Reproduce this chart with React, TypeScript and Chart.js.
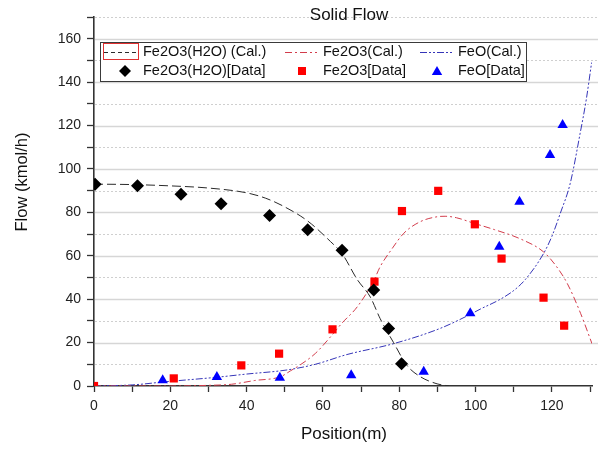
import React, { useEffect, useRef } from 'react';
import { Chart, registerables } from 'chart.js';

Chart.register(...registerables);

// ---- axis ticks ----
const xTicks = [0, 10, 20, 30, 40, 50, 60, 70, 80, 90, 100, 110, 120, 130];
const yTicks = [0, 10, 20, 30, 40, 50, 60, 70, 80, 90, 100, 110, 120, 130, 140, 150, 160, 170];

// ---- calculated curves ----
const hydrateCalX = [0, 10, 20, 30, 40, 45, 50, 56, 62, 65, 69, 72.4, 75, 78.5, 82, 85.5, 89.9, 93];
const hydrateCalY = [93, 92.8, 92.2, 91.2, 89, 86.5, 82.5, 76, 66.5, 61, 49, 41, 31, 20, 9.5, 4.3, 1, 0];

const hematiteCalX = [0, 10, 20, 30, 36, 42, 48.9, 51.5, 54, 58, 62, 65, 69, 73.3, 75, 78, 81.2, 85.5, 90, 92, 95, 99.5, 105, 111.7, 117.8, 121, 124, 127.5, 130.5];
const hematiteCalY = [0, 0, 0, 0.3, 0.8, 2.5, 4.3, 7, 9.7, 15, 22.7, 29, 36.5, 48.5, 55, 63, 70.4, 75.7, 78, 78.2, 77.5, 75, 72, 67.8, 61.8, 55.5, 47.3, 33.5, 19.5];

const feoCalX = [0, 10, 19, 32, 40, 50.6, 58, 66.3, 78.5, 90.8, 98.6, 101.3, 106, 110, 113, 117.8, 120, 122.2, 124.8, 127.4, 129, 130.4];
const feoCalY = [0, 0.5, 2, 4, 5.5, 7.4, 10, 14.5, 19.5, 26.6, 33, 35.5, 39.5, 44, 49, 61, 69, 79.6, 93.4, 116.5, 132, 149];

// ---- measured data ----
const hydrateDataX = [0.3, 11.4, 22.8, 33.3, 46, 56, 65, 73.3, 77.2, 80.6];
const hydrateDataY = [93, 92.2, 88.3, 84, 78.5, 72, 62.5, 44.2, 26.5, 10.3];

const hematiteDataX = [0, 20.9, 38.6, 48.5, 62.5, 73.5, 80.7, 90.2, 99.8, 106.8, 117.8, 123.2];
const hematiteDataY = [0, 3.5, 9.5, 14.9, 26.1, 48.1, 80.6, 89.9, 74.5, 58.7, 40.7, 27.8];

const feoDataX = [18, 32.2, 48.7, 67.4, 86.4, 98.6, 106.2, 111.5, 119.5, 122.8];
const feoDataY = [2.7, 4.1, 3.8, 5, 6.6, 33.5, 64.2, 84.9, 106.4, 120.2];

const seriesLabels = [
  'Fe2O3(H2O) (Cal.)',
  'Fe2O3(Cal.)',
  'FeO(Cal.)',
  'Fe2O3(H2O)[Data]',
  'Fe2O3[Data]',
  'FeO[Data]',
];

const chartTitle = 'Solid Flow';
const xTitle = 'Position(m)';
const yTitle = 'Flow (kmol/h)';

const FONT = "'Liberation Sans', Arial, Helvetica, sans-serif";

const BLACK_LINE = '#2a2a2a';
const RED_LINE = '#d23c4b';
const BLUE_LINE = '#3535b8';
const DASH_BLACK = [9, 4];
const DASH_RED = [7, 3, 2, 3];
const DASH_BLUE = [7, 2, 2, 2, 2, 2];

const zip = (xs: number[], ys: number[]) => xs.map((x, i) => ({ x, y: ys[i] }));

function drawDiamond(ctx: CanvasRenderingContext2D, x: number, y: number, r: number, c: string) {
  ctx.beginPath();
  ctx.moveTo(x, y - r);
  ctx.lineTo(x + r, y);
  ctx.lineTo(x, y + r);
  ctx.lineTo(x - r, y);
  ctx.closePath();
  ctx.fillStyle = c;
  ctx.fill();
}
function drawSquare(ctx: CanvasRenderingContext2D, x: number, y: number, s: number, c: string) {
  ctx.fillStyle = c;
  ctx.fillRect(x - s / 2, y - s / 2, s, s);
}
function drawTriangle(ctx: CanvasRenderingContext2D, x: number, y: number, r: number, c: string) {
  ctx.beginPath();
  for (let i = 0; i < 3; i++) {
    const a = (i * 2 * Math.PI) / 3;
    const px = x + Math.sin(a) * r;
    const py = y - Math.cos(a) * r;
    if (i === 0) ctx.moveTo(px, py);
    else ctx.lineTo(px, py);
  }
  ctx.closePath();
  ctx.fillStyle = c;
  ctx.fill();
}

const gridPlugin = {
  id: 'customGrid',
  beforeDatasetsDraw(chart: any) {
    const { ctx, chartArea, scales } = chart;
    const ys = scales.y;
    ctx.save();
    yTicks.forEach((v) => {
      if (v === 0) return;
      const py = Math.round(ys.getPixelForValue(v)) + 0.5;
      ctx.beginPath();
      if (v % 20 === 0) {
        ctx.strokeStyle = '#d6d6d6';
        ctx.lineWidth = 1.6;
        ctx.setLineDash([]);
      } else {
        ctx.strokeStyle = '#cfcfcf';
        ctx.lineWidth = 1;
        ctx.setLineDash([2, 2]);
      }
      ctx.moveTo(chartArea.left + 1, py);
      ctx.lineTo(chartArea.right + 6, py);
      ctx.stroke();
    });
    ctx.restore();
  },
};

const textPlugin = {
  id: 'customText',
  afterDraw(chart: any) {
    const { ctx } = chart;
    ctx.save();
    ctx.fillStyle = '#111';
    ctx.textAlign = 'center';
    ctx.textBaseline = 'middle';
    ctx.font = `17px ${FONT}`;
    ctx.fillText(chartTitle, 349, 15);
    ctx.font = `17px ${FONT}`;
    ctx.fillText(xTitle, 344, 434);
    ctx.translate(22, 182);
    ctx.rotate(-Math.PI / 2);
    ctx.font = `16.5px ${FONT}`;
    ctx.fillText(yTitle, 0, 0);
    ctx.restore();
  },
};

const legendPlugin = {
  id: 'customLegend',
  afterDraw(chart: any) {
    const { ctx } = chart;
    ctx.save();
    const bx = 100, by = 42, bw = 426, bh = 39;
    ctx.fillStyle = '#ffffff';
    ctx.fillRect(bx, by, bw, bh);
    ctx.strokeStyle = '#3a3a3a';
    ctx.lineWidth = 1;
    ctx.strokeRect(bx + 0.5, by + 0.5, bw, bh);

    const row1 = 52, row2 = 71;
    const cols = [
      { l0: 104, l1: 137, tx: 143, mx: 125 },
      { l0: 285, l1: 317, tx: 323, mx: 302 },
      { l0: 420, l1: 453, tx: 458, mx: 437 },
    ];
    const lineStyles = [
      { c: BLACK_LINE, d: [4, 3] },
      { c: RED_LINE, d: DASH_RED },
      { c: BLUE_LINE, d: DASH_BLUE },
    ];
    cols.forEach((col, i) => {
      ctx.beginPath();
      ctx.strokeStyle = lineStyles[i].c;
      ctx.lineWidth = 1;
      ctx.setLineDash(lineStyles[i].d);
      ctx.moveTo(col.l0, row1 + 0.5);
      ctx.lineTo(col.l1, row1 + 0.5);
      ctx.stroke();
    });
    ctx.setLineDash([]);
    // selection box around first sample
    ctx.strokeStyle = '#e03030';
    ctx.lineWidth = 1;
    ctx.strokeRect(103.5, 43.5, 35, 16);

    drawDiamond(ctx, cols[0].mx, row2, 6, '#000');
    drawSquare(ctx, cols[1].mx, row2, 8, '#ff0000');
    drawTriangle(ctx, cols[2].mx, row2 + 1, 6, '#0000ff');

    ctx.fillStyle = '#111';
    ctx.font = `14.5px ${FONT}`;
    ctx.textAlign = 'left';
    ctx.textBaseline = 'middle';
    cols.forEach((col, i) => {
      ctx.fillText(seriesLabels[i], col.tx, row1);
      ctx.fillText(seriesLabels[i + 3], col.tx, row2);
    });
    ctx.restore();
  },
};

export default function App() {
  const ref = useRef<HTMLCanvasElement | null>(null);

  useEffect(() => {
    if (!ref.current) return;
    const chart = new Chart(ref.current, {
      type: 'scatter',
      data: {
        datasets: [
          {
            label: seriesLabels[3],
            data: zip(hydrateDataX, hydrateDataY),
            pointStyle: 'rectRot',
            pointRadius: 6.5,
            pointBackgroundColor: '#000',
            pointBorderColor: '#000',
            pointBorderWidth: 0,
            showLine: false,
            clip: 0,
          },
          {
            label: seriesLabels[4],
            data: zip(hematiteDataX, hematiteDataY),
            pointStyle: 'rect',
            pointRadius: 5.8,
            pointBackgroundColor: '#ff0000',
            pointBorderColor: '#ff0000',
            pointBorderWidth: 0,
            showLine: false,
            clip: 0,
          },
          {
            label: seriesLabels[5],
            data: zip(feoDataX, feoDataY),
            pointStyle: 'triangle',
            pointRadius: 6,
            pointBackgroundColor: '#0000ff',
            pointBorderColor: '#0000ff',
            pointBorderWidth: 0,
            showLine: false,
            clip: 0,
          },
          {
            label: seriesLabels[0],
            data: zip(hydrateCalX, hydrateCalY),
            showLine: true,
            pointRadius: 0,
            borderColor: BLACK_LINE,
            borderWidth: 1,
            borderDash: DASH_BLACK,
            cubicInterpolationMode: 'monotone',
            clip: 0,
          },
          {
            label: seriesLabels[1],
            data: zip(hematiteCalX, hematiteCalY),
            showLine: true,
            pointRadius: 0,
            borderColor: RED_LINE,
            borderWidth: 1,
            borderDash: DASH_RED,
            cubicInterpolationMode: 'monotone',
            clip: 0,
          },
          {
            label: seriesLabels[2],
            data: zip(feoCalX, feoCalY),
            showLine: true,
            pointRadius: 0,
            borderColor: BLUE_LINE,
            borderWidth: 1,
            borderDash: DASH_BLUE,
            cubicInterpolationMode: 'monotone',
            clip: 0,
          },
        ] as any,
      },
      options: {
        animation: false,
        responsive: false,
        layout: { padding: { left: 0, right: 8, top: 17, bottom: 0 } },
        plugins: {
          legend: { display: false },
          title: { display: false },
          tooltip: { enabled: false },
        },
        scales: {
          x: {
            type: 'linear',
            min: 0,
            max: 130.5,
            afterFit: (s: any) => {
              s.height = 63;
            },
            afterBuildTicks: (s: any) => {
              s.ticks = xTicks.map((v) => ({ value: v }));
            },
            ticks: {
              autoSkip: false,
              maxRotation: 0,
              padding: 6,
              color: '#222',
              font: { family: FONT, size: 14 },
              callback: (v: any) => (Number(v) % 20 === 0 ? String(v) : ''),
            },
            grid: {
              drawOnChartArea: false,
              drawTicks: true,
              tickLength: 6,
              tickColor: '#333',
              tickWidth: 1.3,
            },
            border: { display: true, color: '#333', width: 1.6 },
          },
          y: {
            type: 'linear',
            min: 0,
            max: 170,
            afterFit: (s: any) => {
              s.width = 94;
            },
            afterBuildTicks: (s: any) => {
              s.ticks = yTicks.map((v) => ({ value: v }));
            },
            ticks: {
              autoSkip: false,
              padding: 6,
              color: '#222',
              font: { family: FONT, size: 14 },
              callback: (v: any) => (Number(v) % 20 === 0 ? String(v) : ''),
            },
            grid: {
              drawOnChartArea: false,
              drawTicks: true,
              tickLength: 7,
              tickColor: '#333',
              tickWidth: 1.3,
            },
            border: { display: true, color: '#333', width: 1.6 },
          },
        },
      } as any,
      plugins: [gridPlugin, textPlugin, legendPlugin],
    });
    return () => chart.destroy();
  }, []);

  return (
    <div style={{ position: 'absolute', left: 0, top: 0, width: 600, height: 449, background: '#fff' }}>
      <canvas ref={ref} width={600} height={449} />
    </div>
  );
}
